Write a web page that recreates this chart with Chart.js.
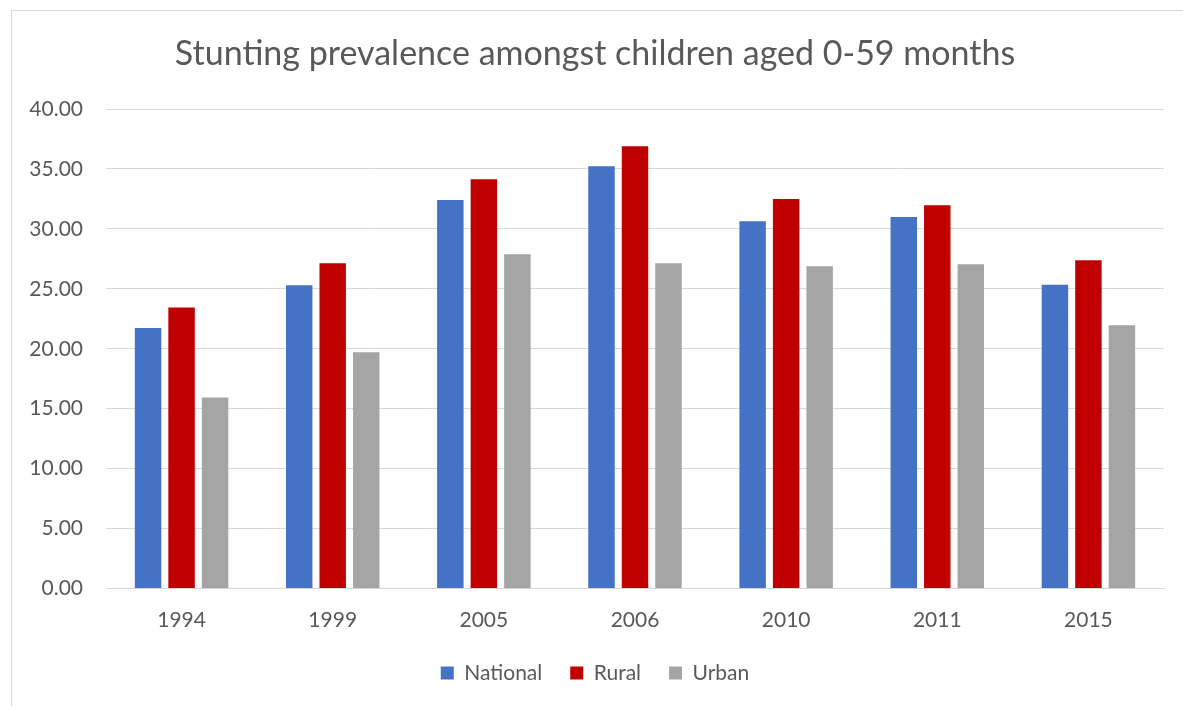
<!DOCTYPE html>
<html>
<head>
<meta charset="utf-8">
<script src="https://cdn.jsdelivr.net/npm/chart.js@4.4.1/dist/chart.umd.min.js"></script>
<style>
    html, body { margin: 0; padding: 0; background: #fff; overflow: hidden; }
    #frame {
        position: absolute; left: 11px; top: 10px; width: 1300px; height: 800px;
        border-left: 1px solid #d9d9d9; border-top: 1px solid #d9d9d9;
    }
    #wrap { position: absolute; left: 0; top: 0; width: 1183px; height: 706px; }
</style>
</head>
<body>
<div id="frame"></div>
<div id="wrap"><canvas id="stuntingChart"></canvas></div>
<script>
// Survey years and stunting prevalence (%)
const years = ['1994', '1999', '2005', '2006', '2010', '2011', '2015'];
const national = [21.73, 25.29, 32.41, 35.22, 30.63, 30.99, 25.34];
const rural = [23.45, 27.13, 34.14, 36.89, 32.50, 31.97, 27.38];
const urban = [15.94, 19.70, 27.88, 27.13, 26.88, 27.05, 21.95];

const textColor = '#595959';
const gridColor = '#d9d9d9';
const fontFamily = 'Lato, "Open Sans", sans-serif';

Chart.defaults.font.family = fontFamily;
Chart.defaults.color = textColor;

const ctx = document.getElementById('stuntingChart').getContext('2d');

new Chart(ctx, {
    type: 'bar',
    data: {
        labels: years,
        datasets: [
            { label: 'National', data: national, backgroundColor: '#4472C4' },
            { label: 'Rural', data: rural, backgroundColor: '#C00000' },
            { label: 'Urban', data: urban, backgroundColor: '#A5A5A5' }
        ]
    },
    options: {
        responsive: true,
        maintainAspectRatio: false,
        animation: false,
        layout: {
            padding: { left: 26, right: 19, top: 10, bottom: 12.5 }
        },
        datasets: {
            bar: {
                categoryPercentage: 0.665,
                barPercentage: 0.79
            }
        },
        scales: {
            x: {
                grid: { display: false, drawTicks: false },
                border: { display: true, color: gridColor, width: 1 },
                ticks: {
                    padding: 19,
                    font: { size: 21 },
                    color: textColor
                },
                afterFit: function(scale) {
                    scale.height = 46;
                }
            },
            y: {
                min: 0,
                max: 40,
                grid: { color: gridColor, lineWidth: 1, drawTicks: false },
                border: { display: false },
                ticks: {
                    stepSize: 5,
                    padding: 23,
                    font: { size: 21 },
                    color: textColor,
                    callback: function(value) {
                        return Number(value).toFixed(2);
                    }
                },
                afterFit: function(scale) {
                    scale.width = 80;
                }
            }
        },
        plugins: {
            title: {
                display: true,
                text: 'Stunting prevalence amongst children aged 0-59 months',
                color: textColor,
                font: { size: 34, weight: 'normal' },
                padding: { top: 23.6, bottom: 34.6 }
            },
            legend: {
                display: true,
                position: 'bottom',
                labels: {
                    boxWidth: 13,
                    boxHeight: 13,
                    padding: 28,
                    font: { size: 21 },
                    color: textColor
                }
            },
            tooltip: { enabled: false }
        }
    }
});
</script>
</body>
</html>
